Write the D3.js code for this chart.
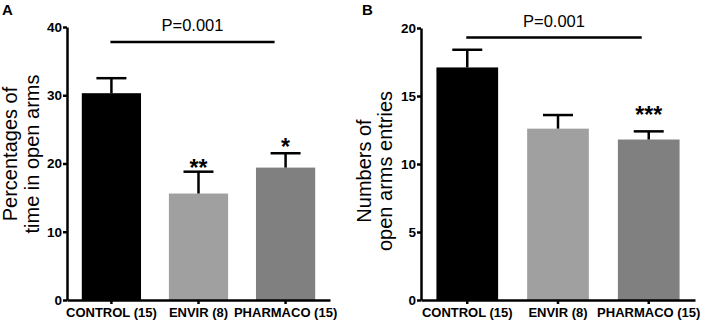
<!DOCTYPE html>
<html>
<head>
<meta charset="utf-8">
<script src="https://cdn.jsdelivr.net/npm/d3@7"></script>
<style>
  body { margin: 0; background: #fff; }
  svg { display: block; font-family: "Liberation Sans", Arial, sans-serif; }
  .axis path, .axis line { stroke: #000; stroke-width: 2.5; }
  .axis text { font-weight: bold; fill: #000; }
</style>
</head>
<body>
<div id="chart"></div>
<script>
const groups = ["CONTROL (15)", "ENVIR (8)", "PHARMACO (15)"];
const barColors = ["#000000", "#a0a0a0", "#808080"];

// panel A: percentage of time in open arms
const timeMeans = [30.3, 15.6, 19.4];
const timeErrors = [2.2, 3.2, 2.1];
const timeStars = ["", "**", "*"];
const timeStarY = [0, 20.1, 23.1];
const timeTicks = [0, 10, 20, 30, 40];

// panel B: number of open arms entries
const entryMeans = [17.1, 12.6, 11.8];
const entryErrors = [1.3, 1.0, 0.6];
const entryStars = ["", "", "***"];
const entryStarY = [0, 0, 14.0];
const entryTicks = [0, 5, 10, 15, 20];

const pText = "P=0.001";

const svg = d3.select("#chart")
    .append("svg")
    .attr("width", 708)
    .attr("height", 323);

const drawPanel = (p) => {
    const x = d3.scaleBand()
        .domain(groups)
        .range([p.left, p.right])
        .paddingInner(0.32)
        .paddingOuter(0.17);

    const y = d3.scaleLinear()
        .domain([0, p.max])
        .range([300, p.top]);

    const g = svg.append("g");

    g.selectAll(".bar")
        .data(p.means)
        .join("rect")
        .attr("class", "bar")
        .attr("x", (d, i) => x(groups[i]))
        .attr("width", x.bandwidth())
        .attr("y", d => y(d))
        .attr("height", d => y(0) - y(d))
        .attr("fill", (d, i) => barColors[i]);

    // error bars, upper side only
    const cx = i => x(groups[i]) + x.bandwidth() / 2;
    g.selectAll(".stem")
        .data(p.means)
        .join("line")
        .attr("x1", (d, i) => cx(i))
        .attr("x2", (d, i) => cx(i))
        .attr("y1", d => y(d))
        .attr("y2", (d, i) => y(d + p.errors[i]))
        .attr("stroke", "#000")
        .attr("stroke-width", 2.5);

    g.selectAll(".cap")
        .data(p.means)
        .join("line")
        .attr("x1", (d, i) => cx(i) - 15)
        .attr("x2", (d, i) => cx(i) + 15)
        .attr("y1", (d, i) => y(d + p.errors[i]))
        .attr("y2", (d, i) => y(d + p.errors[i]))
        .attr("stroke", "#000")
        .attr("stroke-width", 2.5);

    g.selectAll(".star")
        .data(p.stars)
        .join("text")
        .attr("x", (d, i) => cx(i))
        .attr("y", (d, i) => y(p.starY[i]) + 13)
        .attr("text-anchor", "middle")
        .attr("font-size", 23)
        .attr("font-weight", "bold")
        .text(d => d);

    g.append("g")
        .attr("class", "axis")
        .attr("transform", `translate(${p.left},0)`)
        .call(d3.axisLeft(y).tickValues(p.ticks).tickSize(4).tickSizeOuter(0).tickPadding(1))
        .selectAll("text")
        .attr("font-size", 13.5);

    g.append("g")
        .attr("class", "axis")
        .attr("transform", "translate(0,300)")
        .call(d3.axisBottom(x).tickSize(4).tickSizeOuter(0).tickPadding(4))
        .selectAll("text")
        .attr("font-size", 13);

    g.selectAll(".domain").attr("fill", "none");

    // significance line
    const x1 = cx(0) - 1, x2 = cx(2) - p.lineTrim;
    g.append("line")
        .attr("x1", x1)
        .attr("x2", x2)
        .attr("y1", y(p.lineY))
        .attr("y2", y(p.lineY))
        .attr("stroke", "#000")
        .attr("stroke-width", 2.5);

    g.append("text")
        .attr("x", (x1 + x2) / 2)
        .attr("y", y(p.lineY) - 11)
        .attr("text-anchor", "middle")
        .attr("font-size", 16.5)
        .text(pText);

    const lbl = g.append("text")
        .attr("transform", `translate(0,${p.labelY}) rotate(-90)`)
        .attr("text-anchor", "middle")
        .attr("font-size", 20);
    p.label.forEach((t, i) => {
        lbl.append("tspan")
            .attr("x", 0)
            .attr("y", p.labelX[i])
            .text(t);
    });

    g.append("text")
        .attr("x", p.letterX)
        .attr("y", 15)
        .attr("font-size", 15)
        .attr("font-weight", "bold")
        .text(p.letter);
};

drawPanel({
    letter: "A", letterX: 2,
    left: 67, right: 330, top: 27, max: 40,
    means: timeMeans, errors: timeErrors, stars: timeStars, starY: timeStarY,
    ticks: timeTicks, lineY: 37.8, lineTrim: 11,
    label: ["Percentages of", "time in open arms"], labelX: [17, 39], labelY: 154
});

drawPanel({
    letter: "B", letterX: 362,
    left: 421, right: 695, top: 28, max: 20,
    means: entryMeans, errors: entryErrors, stars: entryStars, starY: entryStarY,
    ticks: entryTicks, lineY: 19.3, lineTrim: 7,
    label: ["Numbers of", "open arms entries"], labelX: [371, 392], labelY: 171
});
</script>
</body>
</html>
